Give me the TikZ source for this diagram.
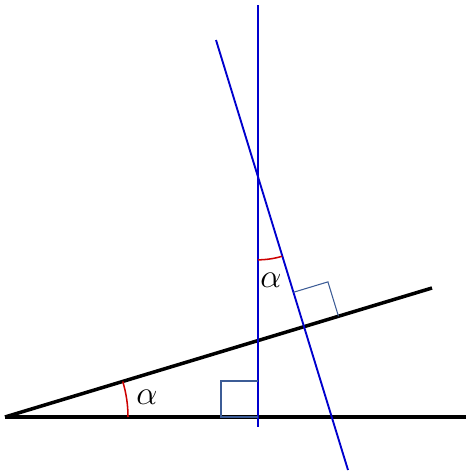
\documentclass[tikz,border=0pt]{standalone}
\usepackage{amsmath}
\usepackage{graphicx}
\usepackage{tikz}
\usepackage{xcolor}
\usetikzlibrary{calc}

\definecolor{lineblue}{RGB}{0,0,205}
\definecolor{squareblue}{RGB}{60,92,150}
\definecolor{arcred}{RGB}{205,0,0}
\newcommand{\bigalpha}{\scalebox{1.15}{$\alpha$}}

\begin{document}
\begin{tikzpicture}[x=0.03cm,y=-0.03cm,
    ground/.style={draw,black,line width=3pt},
    normal/.style={draw,lineblue,line width=1.6pt},
    rightangle/.style={draw,squareblue,line width=0.9pt},
    anglearc/.style={draw,arcred,line width=1.3pt},
    anglelabel/.style={font=\Huge,inner sep=0pt}
]
    \useasboundingbox (0,0) rectangle (466,475);
    \coordinate (origin) at (5,417);
    \coordinate (hend) at (466,417);
    \coordinate (slopeend) at (432,288);
    \coordinate (vtop) at (258,5);
    \coordinate (vbot) at (258,427);
    \coordinate (ntop) at (216,40);
    \coordinate (nbot) at (348,470);
    \coordinate (foot) at (258,417);
    \coordinate (cross) at (intersection of origin--slopeend and ntop--nbot);
    \coordinate (apex) at (intersection of vtop--vbot and ntop--nbot);

    \draw[ground] (origin)--(hend);
    \draw[ground] (origin)--(slopeend);
    \draw[normal] (vtop)--(vbot);
    \draw[normal] (ntop)--(nbot);

    \draw[rightangle] (foot) -- ++(-37,0) -- ++(0,-36) -- ++(37,0);
    \coordinate (sq1) at ($(cross)!1.08cm!(slopeend)$);
    \coordinate (sq2) at ($(cross)!1.08cm!(ntop)$);
    \draw[rightangle] (sq1) -- ($(sq1)+(sq2)-(cross)$) -- (sq2);

    \draw[anglearc] (origin) ++(0:3.69cm) arc[start angle=0,end angle=16.8,radius=3.69cm];
    \draw[anglearc] (apex) ++(-90:2.49cm) arc[start angle=-90,end angle=-73.2,radius=2.49cm];
    \node[anglelabel] (alpha1) at (147,397) {\bigalpha};
    \node[anglelabel] (alpha2) at (271,280) {\bigalpha};
\end{tikzpicture}
\end{document}
